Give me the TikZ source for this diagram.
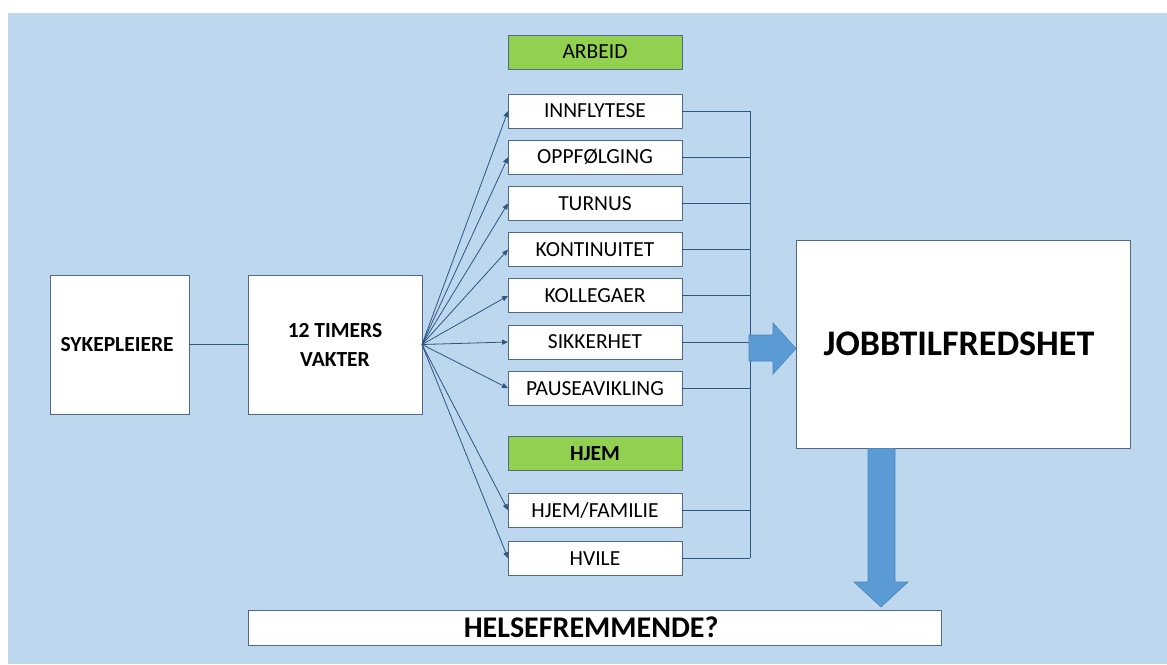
\documentclass[tikz,border=0pt]{standalone}
\usepackage{fontspec}
\setmainfont{Carlito}
\usetikzlibrary{arrows.meta, positioning, calc}
\definecolor{cBack}{RGB}{189,215,238}
\definecolor{cGreen}{RGB}{146,208,80}
\definecolor{cArrow}{RGB}{91,155,213}
\definecolor{cLine}{RGB}{47,85,130}
\definecolor{cEdge}{RGB}{80,105,135}

\begin{document}
\begin{tikzpicture}[
  x=1pt, y=-1pt,
  box/.style={draw=cEdge, fill=white, line width=1pt, inner sep=0pt,
              outer sep=0pt, align=center},
  item/.style={box, minimum width=174pt, minimum height=34pt,
               font=\fontsize{21.5}{25}\selectfont},
  group/.style={item, fill=cGreen},
  big/.style={box, font=\fontsize{21.5}{29}\selectfont\bfseries},
  arr/.style={->, cLine, line width=0.8pt, >={Triangle[length=6pt,width=5pt]}},
  link/.style={cLine, line width=0.8pt},
  fatarrow/.style={fill=cArrow, draw=cArrow!85!black, line width=0.6pt}
]

%% ── BACKGROUND ───────────────────────────────────────────────────────────────

\fill[white] (0,0) rectangle (1167,664);
\fill[cBack] (8,13) rectangle (1167,664);
\useasboundingbox (0,0) rectangle (1167,664);

%% ── LEFT BLOCKS ──────────────────────────────────────────────────────────────

\node[big, minimum width=139pt, minimum height=139pt] (syk) at (119.5,344.5) {
  SYKEPLEIERE
};

\node[big, minimum width=174pt, minimum height=139pt,
      right=59pt of syk] (vakter) {
  12 TIMERS\\VAKTER
};

%% ── ARBEID ───────────────────────────────────────────────────────────────────

\node[group] (arbeid) at (595,52) {ARBEID};

\node[item, below=25pt of arbeid] (innfly) {INNFLYTESE};
\node[item, below=12.2pt of innfly] (oppf) {OPPFØLGING};
\node[item, below=12.2pt of oppf] (turnus) {TURNUS};
\node[item, below=12.2pt of turnus] (kont) {KONTINUITET};
\node[item, below=12.2pt of kont] (koll) {KOLLEGAER};
\node[item, below=12.2pt of koll] (sikk) {SIKKERHET};
\node[item, below=12.2pt of sikk] (pause) {PAUSEAVIKLING};

%% ── HJEM ─────────────────────────────────────────────────────────────────────

\node[group, font=\fontsize{21.5}{25}\selectfont\bfseries,
      below=31pt of pause] (hjem) {HJEM};

\node[item, below=23pt of hjem] (famil) {HJEM/FAMILIE};
\node[item, below=14pt of famil] (hvile) {HVILE};

%% ── RIGHT AND BOTTOM ─────────────────────────────────────────────────────────

\node[box, minimum width=334pt, minimum height=208pt,
      font=\fontsize{36}{40}\selectfont\bfseries] (jobb) at (963,344) {
  JOBBTILFREDSHET
};

\node[box, minimum width=693pt, minimum height=35pt,
      font=\fontsize{30}{34}\selectfont\bfseries] (helse) at (594.5,627.5) {
  HELSEFREMMENDE?
};

%% ── ARROWS: fan out ──────────────────────────────────────────────────────────

\draw[link] (syk) -- (vakter);

\draw[arr] (vakter.east) -- (innfly.west);
\draw[arr] (vakter.east) -- (oppf.west);
\draw[arr] (vakter.east) -- (turnus.west);
\draw[arr] (vakter.east) -- (kont.west);
\draw[arr] (vakter.east) -- (koll.west);
\draw[arr] (vakter.east) -- (sikk.west);
\draw[arr] (vakter.east) -- (pause.west);
\draw[arr] (vakter.east) -- (famil.west);
\draw[arr] (vakter.east) -- (hvile.west);

%% ── ARROWS: collecting bus ───────────────────────────────────────────────────

\coordinate (bus) at (750,0);
\draw[link] (innfly.east -| bus) -- (hvile.east -| bus);

\draw[link] (innfly.east) -- (innfly.east -| bus);
\draw[link] (oppf.east)   -- (oppf.east -| bus);
\draw[link] (turnus.east) -- (turnus.east -| bus);
\draw[link] (kont.east)   -- (kont.east -| bus);
\draw[link] (koll.east)   -- (koll.east -| bus);
\draw[link] (sikk.east)   -- (sikk.east -| bus);
\draw[link] (pause.east)  -- (pause.east -| bus);
\draw[link] (famil.east)  -- (famil.east -| bus);
\draw[link] (hvile.east)  -- (hvile.east -| bus);

%% ── BLOCK ARROWS ─────────────────────────────────────────────────────────────

\filldraw[fatarrow] (749,335) -- (773,335) -- (773,323) -- (796,348.5)
  -- (773,374) -- (773,361) -- (749,361) -- cycle;

\filldraw[fatarrow] (868,448.5) -- (895,448.5) -- (895,582) -- (908,582)
  -- (881,607) -- (854,582) -- (868,582) -- cycle;

\end{tikzpicture}
\end{document}
